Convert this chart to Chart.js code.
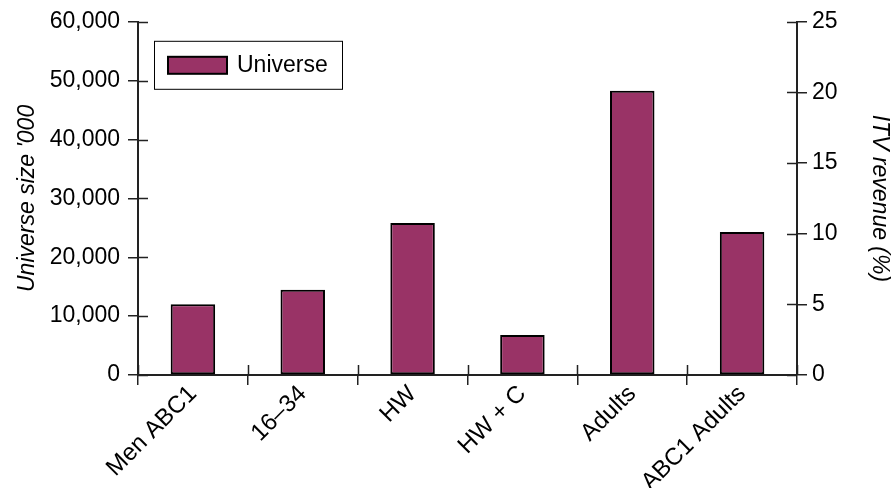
<!DOCTYPE html>
<html>
<head>
<meta charset="utf-8">
<script src="https://cdn.jsdelivr.net/npm/chart.js@4/dist/chart.umd.min.js"></script>
<style>
  html, body { margin: 0; padding: 0; background: #fff; }
  #wrap { width: 893px; height: 488px; }
</style>
</head>
<body>
<div id="wrap"><canvas id="c" width="893" height="488"></canvas></div>
<script>
// Audience groups and their universe sizes (thousands)
const categories = ['Men ABC1', '16\u201334', 'HW', 'HW + C', 'Adults', 'ABC1 Adults'];
const universeValues = [12000, 14500, 25800, 6800, 48300, 24300];
const leftTicks = [0, 10000, 20000, 30000, 40000, 50000, 60000];
const rightTicks = [0, 5, 10, 15, 20, 25];

const FONT = "'Liberation Sans', Arial, sans-serif";
const AXIS = '#222';

// Short tick stubs drawn inside the plot next to each axis line
const innerTicks = {
  id: 'innerTicks',
  afterDraw(chart) {
    const { ctx, chartArea: a, scales } = chart;
    ctx.save();
    ctx.strokeStyle = AXIS;
    ctx.lineWidth = 1.5;
    ctx.beginPath();
    scales.y.ticks.forEach(t => {
      const py = Math.round(scales.y.getPixelForValue(t.value)) + 0.5;
      ctx.moveTo(a.left, py); ctx.lineTo(a.left + 10, py);
    });
    scales.y1.ticks.forEach(t => {
      const py = Math.round(scales.y1.getPixelForValue(t.value)) + 0.5;
      ctx.moveTo(a.right, py); ctx.lineTo(a.right - 10, py);
    });
    const x = scales.x;
    const step = x.getPixelForTick(1) - x.getPixelForTick(0);
    for (let i = 0; i <= x.ticks.length; i++) {
      const px = Math.round(x.getPixelForTick(0) - step / 2 + i * step) + 0.5;
      ctx.moveTo(px, a.bottom); ctx.lineTo(px, a.bottom - 10);
    }
    ctx.stroke();
    ctx.restore();
  }
};

// Boxed legend placed inside the upper-left of the plot
const boxLegend = {
  id: 'boxLegend',
  afterDraw(chart) {
    const { ctx, chartArea: a } = chart;
    const ds = chart.data.datasets[0];
    const x = a.left + 16, y = a.top + 19, w = 188, h = 48;
    ctx.save();
    ctx.fillStyle = '#fff';
    ctx.fillRect(x, y, w, h);
    ctx.strokeStyle = '#000';
    ctx.lineWidth = 1;
    ctx.strokeRect(x + 0.5, y + 0.5, w, h);
    ctx.fillStyle = ds.backgroundColor;
    ctx.fillRect(x + 14, y + 16, 59, 17);
    ctx.lineWidth = 2;
    ctx.strokeStyle = '#000';
    ctx.strokeRect(x + 14, y + 16, 59, 17);
    ctx.fillStyle = '#000';
    ctx.font = '23px ' + FONT;
    ctx.textBaseline = 'middle';
    ctx.fillText(ds.label, x + 83, y + 25);
    ctx.restore();
  }
};

new Chart(document.getElementById('c'), {
  type: 'bar',
  data: {
    labels: categories,
    datasets: [{
      label: 'Universe',
      data: universeValues,
      backgroundColor: '#993366',
      borderColor: '#000',
      borderWidth: 2,
      borderSkipped: false,
      categoryPercentage: 1,
      barPercentage: 0.405,
      yAxisID: 'y'
    }]
  },
  options: {
    responsive: false,
    animation: false,
    locale: 'en-US',
    layout: { padding: { top: 19, left: 0, right: 0, bottom: 0 } },
    plugins: { legend: { display: false }, tooltip: { enabled: false } },
    scales: {
      x: {
        grid: { drawOnChartArea: false, drawTicks: true, tickLength: 10, color: AXIS, lineWidth: 1.5, offset: true },
        border: { display: true, color: AXIS, width: 2 },
        ticks: { color: '#000', font: { family: FONT, size: 24 }, maxRotation: 45, minRotation: 45, padding: -5, autoSkip: false },
        afterFit(s) { s.height = 113; }
      },
      y: {
        position: 'left',
        min: 0, max: 60000,
        afterBuildTicks(s) { s.ticks = leftTicks.map(v => ({ value: v })); },
        grid: { drawOnChartArea: false, drawTicks: true, tickLength: 10, color: AXIS, lineWidth: 1.5 },
        border: { display: true, color: AXIS, width: 2 },
        ticks: { color: '#000', font: { family: FONT, size: 23 }, padding: 8 },
        title: { display: true, text: "Universe size '000", color: '#000', font: { family: FONT, size: 23, style: 'italic' }, padding: { top: 14, bottom: 0 } },
        afterFit(s) { s.width = 138; }
      },
      y1: {
        position: 'right',
        min: 0, max: 25,
        afterBuildTicks(s) { s.ticks = rightTicks.map(v => ({ value: v })); },
        grid: { drawOnChartArea: false, drawTicks: true, tickLength: 10, color: AXIS, lineWidth: 1.5 },
        border: { display: true, color: AXIS, width: 2 },
        ticks: { color: '#000', font: { family: FONT, size: 23 }, padding: 5 },
        title: { display: true, text: 'ITV revenue (%)', color: '#000', font: { family: FONT, size: 23, style: 'italic' }, padding: { top: 0, bottom: 0 } },
        afterFit(s) { s.width = 96; }
      }
    }
  },
  plugins: [innerTicks, boxLegend]
});
</script>
</body>
</html>
